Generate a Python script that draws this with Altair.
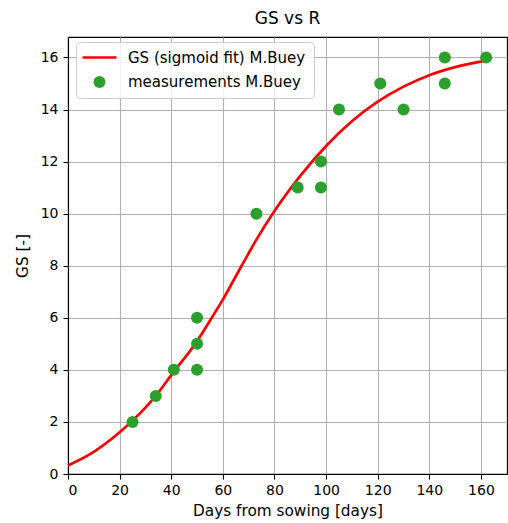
import altair as alt
import pandas as pd

# Sigmoid fit curve
fit_days = [0, 10, 20, 25, 30, 34, 40, 50, 56, 60, 67, 70, 73, 80, 90, 100, 110, 120, 130, 140, 150, 162]
fit_gs = [0.33, 0.85, 1.6, 2.05, 2.55, 3.0, 3.8, 5.1, 6.05, 6.7, 7.95, 8.48, 9.0, 10.1, 11.45,
          12.6, 13.55, 14.3, 14.88, 15.32, 15.63, 15.88]

# Measurements
meas_days = [25, 34, 41, 50, 50, 50, 73, 89, 98, 98, 105, 121, 130, 146, 146, 162]
meas_gs = [2, 3, 4, 4, 5, 6, 10, 11, 11, 12, 14, 15, 14, 15, 16, 16]

series_labels = ["GS (sigmoid fit) M.Buey", "measurements M.Buey"]
x_ticks = [0, 20, 40, 60, 80, 100, 120, 140, 160]
y_ticks = [0, 2, 4, 6, 8, 10, 12, 14, 16]

fit_df = pd.DataFrame({"days": fit_days, "gs": fit_gs, "series": series_labels[0]})
meas_df = pd.DataFrame({"days": meas_days, "gs": meas_gs, "series": series_labels[1]})

FONT = "DejaVu Sans"
RED = "#ff0000"
GREEN = "#2ca02c"
line_path = "M-2.83,-0.22H2.83V0.22H-2.83Z"

x_enc = alt.X("days:Q", scale=alt.Scale(domain=[0, 170.1], nice=False, zero=False),
              axis=alt.Axis(values=x_ticks, title="Days from sowing [days]", format="d"))
y_enc = alt.Y("gs:Q", scale=alt.Scale(domain=[0, 16.785], nice=False, zero=False),
              axis=alt.Axis(values=y_ticks, title="GS [-]", format="d"))

legend = alt.Legend(
    title=None, orient="none", legendX=8, legendY=5,
    fillColor="rgba(255,255,255,0.8)", strokeColor="#cccccc", cornerRadius=4,
    padding=8, rowPadding=8.5, labelFont=FONT, labelFontSize=15, labelColor="black",
    labelLimit=400,
    symbolSize=144, symbolOffset=8, labelOffset=21, symbolStrokeWidth=0,
)

line = alt.Chart(fit_df).mark_line(color=RED, strokeWidth=2.7, interpolate="monotone").encode(
    x=x_enc, y=y_enc
)

points = alt.Chart(meas_df).mark_point(filled=True, size=144, opacity=1).encode(
    x=x_enc, y=y_enc,
    color=alt.Color("series:N", scale=alt.Scale(domain=series_labels, range=[RED, GREEN]), legend=legend),
    shape=alt.Shape("series:N", scale=alt.Scale(domain=series_labels, range=[line_path, "circle"]), legend=legend),
)

chart = alt.layer(line, points).properties(
    width=439, height=437,
    autosize=alt.AutoSizeParams(type="none"),
    padding={"left": 68, "top": 37, "right": 1, "bottom": 49},
    title=alt.TitleParams("GS vs R", font=FONT, fontSize=17, fontWeight="normal", color="black", offset=9),
).configure_view(
    stroke="black", strokeWidth=1.1
).configure_axis(
    grid=True, gridColor="#b0b0b0", gridWidth=1.1,
    domainColor="black", domainWidth=1.1, tickColor="black", tickWidth=1.1, tickSize=5,
    labelFont=FONT, labelFontSize=14, labelColor="black",
    titleFont=FONT, titleFontSize=15.3, titleFontWeight="normal", titleColor="black",
).configure_axisX(
    labelPadding=4, titlePadding=6
).configure_axisY(
    labelPadding=5, titlePadding=10
)

chart.save("out.html", embed_options={"renderer": "svg", "actions": False})
